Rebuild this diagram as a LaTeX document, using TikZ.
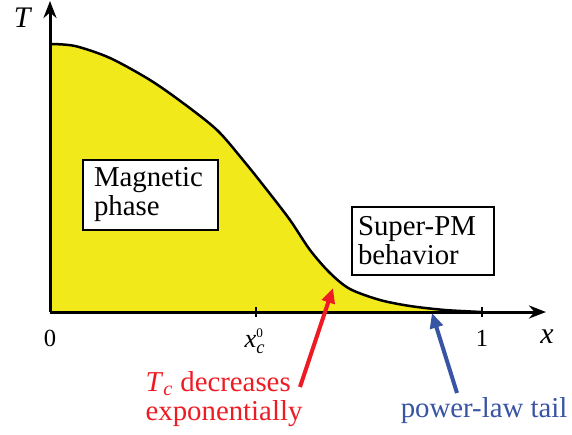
\documentclass[tikz,border=0pt]{standalone}
\usepackage{amsmath}
\usepackage{fontspec}
\setmainfont{Liberation Serif}
\usetikzlibrary{arrows.meta}
\definecolor{phaseyellow}{RGB}{242,233,26}
\definecolor{notered}{RGB}{237,28,36}
\definecolor{noteblue}{RGB}{56,84,164}
\tikzset{
  labeltext/.style={font=\fontsize{16.4}{16.5}\selectfont},
  phasebox/.style={draw,fill=white,line width=0.3mm,align=left,labeltext},
  notearrow/.style={line width=0.8mm,-{Triangle[length=3mm,width=2.6mm]}}
}

\begin{document}
\begin{tikzpicture}[x=0.02cm,y=-0.02cm,line width=0.3mm]
\useasboundingbox (0,0) rectangle (572,434);

%yellow region below the curve
\fill[phaseyellow] (50,312) -- plot[smooth] coordinates {(50,44) (75,46) (110,58) (150,80) (183,103) (217,130) (243,160) (267,190) (290,220) (310,250) (330,273) (350,289) (380,300) (410,306) (445,310) (482,312)} -- cycle;
\draw[line width=0.5mm] plot[smooth] coordinates {(50,44) (75,46) (110,58) (150,80) (183,103) (217,130) (243,160) (267,190) (290,220) (310,250) (330,273) (350,289) (380,300) (410,306) (445,310) (482,312)};

%axes
\draw[line width=0.6mm,-{Stealth[length=3.4mm,width=2.6mm]}] (50,312) -- (50,1);
\draw[line width=0.6mm,-{Stealth[length=3.4mm,width=2.6mm]}] (50,312) -- (546,312);
\draw[line width=0.4mm] (256,307) -- (256,317);
\draw[line width=0.4mm] (482,307) -- (482,317);

%axis labels
\node (tlabel) at (23,18) {\fontsize{17}{17}\selectfont\textit{T}};
\node[anchor=base] (xlabel) at (547,343) {\fontsize{17}{17}\selectfont\textit{x}};
\node[anchor=base] (zero) at (50,346) {\fontsize{14}{14}\selectfont 0};
\node[anchor=base] (one) at (482,346) {\fontsize{14}{14}\selectfont 1};
\node[anchor=base] (xczero) at (255,347) {\fontsize{15}{15}\selectfont\textit{x}$_{\textit{c}}^{\scriptscriptstyle\textrm{0}}$};

%boxes
\node[phasebox,inner xsep=0.22cm,text width=2.26cm,minimum height=1.4cm] (magnetic) at (150.5,195) {Magnetic\\phase};
\node[phasebox,inner xsep=0.12cm,text width=2.6cm,minimum height=1.36cm] (superpm) at (423,241) {Super-PM\\behavior};

%notes
\node[labeltext,align=left,inner sep=0,text=notered] (tcnote) at (224,399) {\textit{T}$_{\textit{c}}$ decreases\\exponentially};
\node[labeltext,anchor=base west,inner sep=0,text=noteblue] (tailnote) at (400,417) {power-law tail};

\coordinate (redtail) at (300,387);
\coordinate (redhead) at (333,288);
\coordinate (bluetail) at (457,393);
\coordinate (bluehead) at (432,313);
\draw[notearrow,notered] (redtail) -- (redhead);
\draw[notearrow,noteblue] (bluetail) -- (bluehead);

\end{tikzpicture}
\end{document}
